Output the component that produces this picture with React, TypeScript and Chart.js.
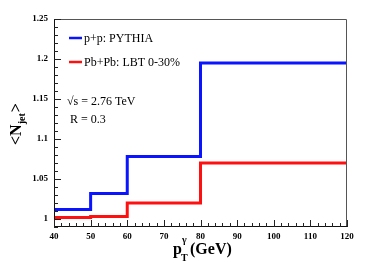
import React, { useEffect, useRef } from "react";
import { Chart, registerables } from "chart.js";

Chart.register(...registerables);

const binEdges = [40, 50, 60, 80, 120];
const ppValues = [1.012, 1.032, 1.078, 1.195];
const pbpbValues = [1.002, 1.003, 1.02, 1.07];
const yTickValues = [1, 1.05, 1.1, 1.15, 1.2, 1.25];
const xTickValues = [40, 50, 60, 70, 80, 90, 100, 110, 120];
const seriesLabels = ["p+p: PYTHIA", "Pb+Pb: LBT 0-30%"];
const seriesColors = ["#0a14ff", "#ff1010"];
const annotations = ["\u221As = 2.76 TeV", "R = 0.3"];

const X_MIN = 40, X_MAX = 120, Y_MIN = 0.99, Y_MAX = 1.25;
const SERIF = "'Liberation Serif', 'Times New Roman', serif";

function stepPoints(values: number[]) {
  const pts = values.map((v, i) => ({ x: binEdges[i], y: v }));
  pts.push({ x: binEdges[binEdges.length - 1], y: values[values.length - 1] });
  return pts;
}

const decorPlugin = {
  id: "decor",
  afterDraw(chart: any) {
    const ctx = chart.ctx;
    const ca = chart.chartArea;
    const xs = chart.scales.x;
    const ys = chart.scales.y;
    ctx.save();
    // frame
    ctx.strokeStyle = "#555";
    ctx.lineWidth = 1;
    ctx.beginPath();
    ctx.moveTo(ca.left, ca.top + 0.5);
    ctx.lineTo(ca.right - 0.5, ca.top + 0.5);
    ctx.lineTo(ca.right - 0.5, ca.bottom);
    ctx.stroke();
    ctx.strokeStyle = "#111";
    ctx.beginPath();
    ctx.moveTo(ca.left + 0.5, ca.top);
    ctx.lineTo(ca.left + 0.5, ca.bottom - 0.5);
    ctx.lineTo(ca.right, ca.bottom - 0.5);
    ctx.stroke();
    // ticks inside
    ctx.strokeStyle = "#222";
    ctx.beginPath();
    for (let v = Y_MIN; v <= Y_MAX + 1e-9; v += 0.01) {
      const r = Math.round(v * 100) / 100;
      const major = Math.abs(r * 20 - Math.round(r * 20)) < 1e-6;
      const y = Math.round(ys.getPixelForValue(r)) + 0.5;
      ctx.moveTo(ca.left, y);
      ctx.lineTo(ca.left + (major ? 7 : 4), y);
    }
    for (let v = X_MIN; v <= X_MAX; v += 2) {
      const major = v % 10 === 0;
      const x = Math.round(xs.getPixelForValue(v)) + 0.5;
      ctx.moveTo(x, ca.bottom);
      ctx.lineTo(x, ca.bottom - (major ? 7 : 4));
    }
    ctx.stroke();

    // legend
    ctx.textBaseline = "middle";
    ctx.textAlign = "left";
    chart.data.datasets.forEach((ds: any, i: number) => {
      const y = 38 + i * 24;
      ctx.strokeStyle = ds.borderColor;
      ctx.lineWidth = 2.5;
      ctx.beginPath();
      ctx.moveTo(69, y);
      ctx.lineTo(82, y);
      ctx.stroke();
      ctx.fillStyle = "#000";
      ctx.font = `12px ${SERIF}`;
      ctx.fillText(ds.label, 84, y + 1);
    });
    // annotations
    ctx.fillStyle = "#000";
    ctx.font = `12px ${SERIF}`;
    ctx.fillText(annotations[0], 67, 102);
    ctx.fillText(annotations[1], 70, 120);

    // x title
    ctx.textBaseline = "alphabetic";
    ctx.font = `bold 16px ${SERIF}`;
    ctx.fillText("p", 173, 254);
    ctx.font = `bold 10px ${SERIF}`;
    ctx.fillText("\u03B3", 182, 243);
    ctx.fillText("T", 181, 261);
    ctx.font = `bold 16px ${SERIF}`;
    ctx.fillText(" (GeV)", 186, 254);

    // y title
    ctx.save();
    ctx.translate(21, 145);
    ctx.rotate(-Math.PI / 2);
    ctx.font = `bold 16px ${SERIF}`;
    let cx = 0;
    ctx.fillText("<N", cx, 0);
    cx += ctx.measureText("<N").width;
    ctx.font = `bold 10px ${SERIF}`;
    ctx.fillText("jet", cx, 4);
    cx += ctx.measureText("jet").width + 1;
    ctx.font = `bold 16px ${SERIF}`;
    ctx.fillText(">", cx, 0);
    ctx.restore();

    ctx.restore();
  },
};

export default function App() {
  const ref = useRef<HTMLCanvasElement>(null);
  useEffect(() => {
    if (!ref.current) return;
    const chart = new Chart(ref.current, {
      type: "line",
      data: {
        datasets: [
          {
            label: seriesLabels[0],
            data: stepPoints(ppValues),
            borderColor: seriesColors[0],
            borderWidth: 3,
            stepped: "before",
            pointRadius: 0,
            fill: false,
          },
          {
            label: seriesLabels[1],
            data: stepPoints(pbpbValues),
            borderColor: seriesColors[1],
            borderWidth: 3,
            stepped: "before",
            pointRadius: 0,
            fill: false,
          },
        ],
      },
      options: {
        responsive: false,
        animation: false,
        devicePixelRatio: 1,
        layout: { padding: { top: 19, right: 18, left: 0, bottom: 0 } },
        plugins: { legend: { display: false }, tooltip: { enabled: false } },
        scales: {
          x: {
            type: "linear",
            min: X_MIN,
            max: X_MAX,
            grid: { display: false, drawTicks: false },
            border: { display: false },
            afterBuildTicks: (s: any) => {
              s.ticks = xTickValues.map((v) => ({ value: v }));
            },
            afterFit: (s: any) => {
              s.height = 35;
            },
            ticks: {
              padding: 4,
              color: "#000",
              maxRotation: 0,
              font: { family: SERIF, size: 9, weight: "bold" },
              callback: (v: any) => String(v),
            },
          },
          y: {
            type: "linear",
            min: Y_MIN,
            max: Y_MAX,
            grid: { display: false, drawTicks: false },
            border: { display: false },
            afterBuildTicks: (s: any) => {
              s.ticks = yTickValues.map((v) => ({ value: v }));
            },
            afterFit: (s: any) => {
              s.width = 54;
            },
            ticks: {
              padding: 6,
              color: "#000",
              font: { family: SERIF, size: 9, weight: "bold" },
              callback: (v: any) => String(Math.round(Number(v) * 100) / 100),
            },
          },
        },
      },
      plugins: [decorPlugin],
    } as any);
    return () => chart.destroy();
  }, []);
  return (
    <div style={{ position: "fixed", left: 0, top: 0, width: 365, height: 262, background: "#fff" }}>
      <canvas ref={ref} width={365} height={262} style={{ width: 365, height: 262, display: "block" }} />
    </div>
  );
}
